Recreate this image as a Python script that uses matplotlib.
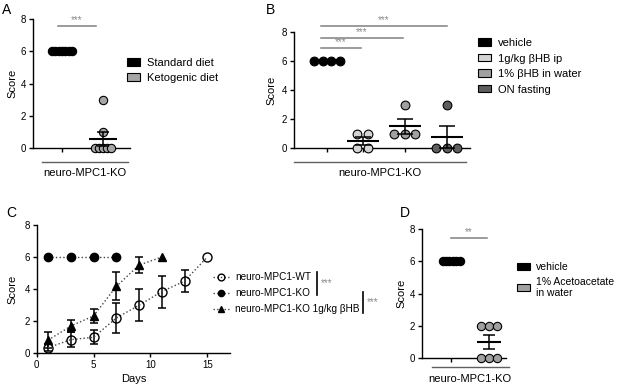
import numpy as np
import matplotlib
matplotlib.use('Agg')
import matplotlib.pyplot as plt
from matplotlib.patches import Patch
from matplotlib.lines import Line2D
from matplotlib.transforms import Affine2D

plt.rcParams['font.family'] = ['Liberation Sans', 'DejaVu Sans']

# ---------------- data ----------------
a_groups = ['Standard diet', 'Ketogenic diet']
a_values = [[6, 6, 6, 6, 6, 6, 6], [0, 0, 0, 0, 0, 1, 3]]
a_colors = ['black', '#a6a6a6']

b_groups = ['vehicle', '1g/kg βHB ip', '1% βHB in water', 'ON fasting']
b_values = [[6, 6, 6, 6], [0, 0, 1, 1], [1, 1, 1, 3], [0, 0, 0, 3]]
b_colors = ['black', '#d4d4d4', '#a0a0a0', '#5e5e5e']

c_labels = ['neuro-MPC1-WT', 'neuro-MPC1-KO', 'neuro-MPC1-KO 1g/kg βHB']
c_days_wt = [1, 3, 5, 7, 9, 11, 13, 15]
c_wt_mean = [0.35, 0.85, 1.0, 2.2, 3.0, 3.85, 4.5, 6.0]
c_wt_sem = [0.2, 0.45, 0.45, 0.92, 1.0, 1.0, 0.67, 0.0]
c_days_ko = [1, 3, 5, 7]
c_ko_mean = [6, 6, 6, 6]
c_days_bhb = [1, 3, 5, 7, 9, 11]
c_bhb_mean = [0.82, 1.7, 2.33, 4.17, 5.5, 6.0]
c_bhb_sem = [0.5, 0.4, 0.42, 0.87, 0.5, 0.0]

d_groups = ['vehicle', '1% Acetoacetate\nin water']
d_values = [[6, 6, 6, 6, 6, 6], [2, 2, 2, 0, 0, 0]]
d_colors = ['black', '#a0a0a0']

# ---------------- layout helpers ----------------
W, H = 617, 385
fig = plt.figure(figsize=(W / 100, H / 100), dpi=100)
PX = Affine2D().scale(1 / W, -1 / H).translate(0, 1) + fig.transFigure


def rect(l, t, r, b):
    return [l / W, 1 - b / H, (r - l) / W, (b - t) / H]


def style(ax):
    for s in ['top', 'right']:
        ax.spines[s].set_visible(False)
    for s in ['left', 'bottom']:
        ax.spines[s].set_linewidth(1.0)
    ax.tick_params(width=1.0, length=3, labelsize=7, pad=2)


def swarm(ax, x0, vals, spacing_px, ppu, color, ms):
    vals = np.asarray(vals, float)
    xs = np.empty_like(vals)
    for v in np.unique(vals):
        idx = np.where(vals == v)[0]
        k = len(idx)
        xs[idx] = x0 + (np.arange(k) - (k - 1) / 2) * spacing_px / ppu
    ax.plot(xs, vals, 'o', ms=ms, mfc=color, mec='black', mew=0.8,
            clip_on=False, zorder=3)


def mean_sem(ax, x0, vals, half_w, cap):
    vals = np.asarray(vals, float)
    m = vals.mean()
    s = vals.std(ddof=1) / np.sqrt(len(vals))
    ax.plot([x0 - half_w, x0 + half_w], [m, m], color='black', lw=1.5,
            zorder=4, clip_on=False, solid_capstyle='butt')
    if s > 0:
        ax.errorbar([x0], [m], yerr=[s], fmt='none', ecolor='black',
                    elinewidth=1.1, capsize=cap, capthick=1.1, zorder=4)


def sig(ax, x1, x2, y, stars):
    ax.plot([x1, x2], [y, y], color='#808080', lw=1.1, clip_on=False)
    ax.text((x1 + x2) / 2, y + 0.05, stars, ha='center', va='bottom',
            fontsize=7, color='#8a8a8a')


def px_line(x1, y1, x2, y2, color='#606060', lw=1.0):
    fig.add_artist(Line2D([x1, x2], [y1, y2], transform=PX, color=color, lw=lw))


def px_text(x, y, s, **kw):
    fig.text(x, y, s, transform=PX, **kw)


def legend_boxes(ax, labels, colors, x, y, spacing=0.45, fs=8):
    handles = [Patch(facecolor=c, edgecolor='black', lw=0.8) for c in colors]
    ax.legend(handles, labels, loc='upper left', bbox_to_anchor=(x / W, 1 - y / H),
              bbox_transform=fig.transFigure, frameon=False, fontsize=fs,
              handlelength=1.2, handleheight=0.65, handletextpad=0.6,
              labelspacing=spacing, borderpad=0, borderaxespad=0)


# ---------------- Panel A ----------------
axA = fig.add_axes(rect(33, 19, 130, 148))
style(axA)
ppu_a = 41.0
axA.set_xlim(-29 / ppu_a, 1 + 27 / ppu_a)
axA.set_ylim(0, 8)
axA.set_yticks([0, 2, 4, 6, 8])
axA.set_xticks([0, 1])
axA.set_xticklabels([])
swarm(axA, 0, a_values[0], 3.4, ppu_a, a_colors[0], 6)
swarm(axA, 1, a_values[1], 4.2, ppu_a, a_colors[1], 6)
mean_sem(axA, 0, a_values[0], 14 / ppu_a, 4.3)
mean_sem(axA, 1, a_values[1], 14 / ppu_a, 4.3)
sig(axA, -0.1, 0.83, 7.55, '***')
axA.set_ylabel('Score', fontsize=8)
axA.yaxis.set_label_coords(-0.165, 0.5)
px_line(42, 162, 128, 162)
px_text(85, 173, 'neuro-MPC1-KO', ha='center', va='center', fontsize=8)
legend_boxes(axA, a_groups, a_colors, 127, 58)

# ---------------- Panel B ----------------
axB = fig.add_axes(rect(294, 32, 470, 148))
style(axB)
ppu_b = 42.0
b_pos = [0, 0.85, 1.85, 2.85]
axB.set_xlim(-33 / ppu_b, 2.85 + 23.3 / ppu_b)
axB.set_ylim(0, 8)
axB.set_yticks([0, 2, 4, 6, 8])
axB.set_xticks(b_pos)
axB.set_xticklabels([])
for i, (p, v, c) in enumerate(zip(b_pos, b_values, b_colors)):
    swarm(axB, p, v, 8.5 if i == 0 else 10.5, ppu_b, c, 6.3)
    mean_sem(axB, p, v, 16 / ppu_b, 5.5)
sig(axB, -0.14, 0.81, 6.9, '***')
sig(axB, -0.14, 1.81, 7.6, '***')
sig(axB, -0.14, 2.86, 8.4, '***')
axB.set_ylabel('Score', fontsize=8)
axB.yaxis.set_label_coords(-0.097, 0.5)
px_line(294, 162, 466, 162)
px_text(380, 173, 'neuro-MPC1-KO', ha='center', va='center', fontsize=8)
legend_boxes(axB, b_groups, b_colors, 478, 38, spacing=0.5)

# ---------------- Panel C ----------------
axC = fig.add_axes(rect(36.7, 225, 230, 353.3))
style(axC)
axC.set_xlim(0, 17)
axC.set_ylim(0, 8)
axC.set_xticks([0, 5, 10, 15])
axC.set_yticks([0, 2, 4, 6, 8])
lc = '#444444'
lwt, = axC.plot(c_days_wt, c_wt_mean, ls=':', color=lc, lw=1.0, marker='o', ms=6.5,
                mfc='none', mec='black', mew=1.0, clip_on=False, zorder=3)
lko, = axC.plot(c_days_ko, c_ko_mean, ls=':', color=lc, lw=1.0, marker='o', ms=6.0,
                mfc='black', mec='black', clip_on=False, zorder=3)
lbh, = axC.plot(c_days_bhb, c_bhb_mean, ls=':', color=lc, lw=1.0, marker='^', ms=6.0,
                mfc='black', mec='black', clip_on=False, zorder=3)
for d, m, s in [(c_days_wt, c_wt_mean, c_wt_sem), (c_days_bhb, c_bhb_mean, c_bhb_sem)]:
    d = np.asarray(d); m = np.asarray(m); s = np.asarray(s)
    k = s > 0
    axC.errorbar(d[k], m[k], yerr=s[k], fmt='none', ecolor='black',
                 elinewidth=1.1, capsize=3, capthick=1.1, zorder=2)
axC.set_ylabel('Score', fontsize=8)
axC.yaxis.set_label_coords(-0.10, 0.5)
axC.set_xlabel('Days', fontsize=8, labelpad=3)
axC.legend([lwt, lko, lbh], c_labels, loc='upper left',
           bbox_to_anchor=(213 / W, 1 - 272 / H), bbox_transform=fig.transFigure,
           frameon=False, fontsize=7.2, handlelength=1.6, handletextpad=0.6,
           labelspacing=0.6, borderpad=0, borderaxespad=0, markerscale=0.75)
px_line(317, 272, 317, 295, color='black', lw=1.2)
px_line(363, 292, 363, 313, color='black', lw=1.2)
px_text(321, 283, '***', ha='left', va='center', fontsize=7, color='#8a8a8a')
px_text(367, 302, '***', ha='left', va='center', fontsize=7, color='#8a8a8a')

# ---------------- Panel D ----------------
axD = fig.add_axes(rect(422, 229, 506, 358))
style(axD)
ppu_d = 38.0
axD.set_xlim(-29 / ppu_d, 1 + 17 / ppu_d)
axD.set_ylim(0, 8)
axD.set_yticks([0, 2, 4, 6, 8])
axD.set_xticks([0, 1])
axD.set_xticklabels([])
swarm(axD, 0, d_values[0], 3.4, ppu_d, d_colors[0], 6)
swarm(axD, 1, d_values[1], 8.3, ppu_d, d_colors[1], 6)
mean_sem(axD, 0, d_values[0], 12 / ppu_d, 4.3)
mean_sem(axD, 1, d_values[1], 12 / ppu_d, 4.3)
sig(axD, 0, 0.95, 7.45, '**')
axD.set_ylabel('Score', fontsize=8)
axD.yaxis.set_label_coords(-0.18, 0.5)
px_line(432, 367, 509, 367)
px_text(470, 379, 'neuro-MPC1-KO', ha='center', va='center', fontsize=8)
legend_boxes(axD, d_groups, d_colors, 517, 262, spacing=0.45, fs=7.5)

# ---------------- panel letters ----------------
px_text(2, 10, 'A', fontsize=10, va='center')
px_text(266, 10, 'B', fontsize=10, va='center')
px_text(6, 213, 'C', fontsize=10, va='center')
px_text(400, 213, 'D', fontsize=10, va='center')

fig.savefig('out.png', dpi=100)
